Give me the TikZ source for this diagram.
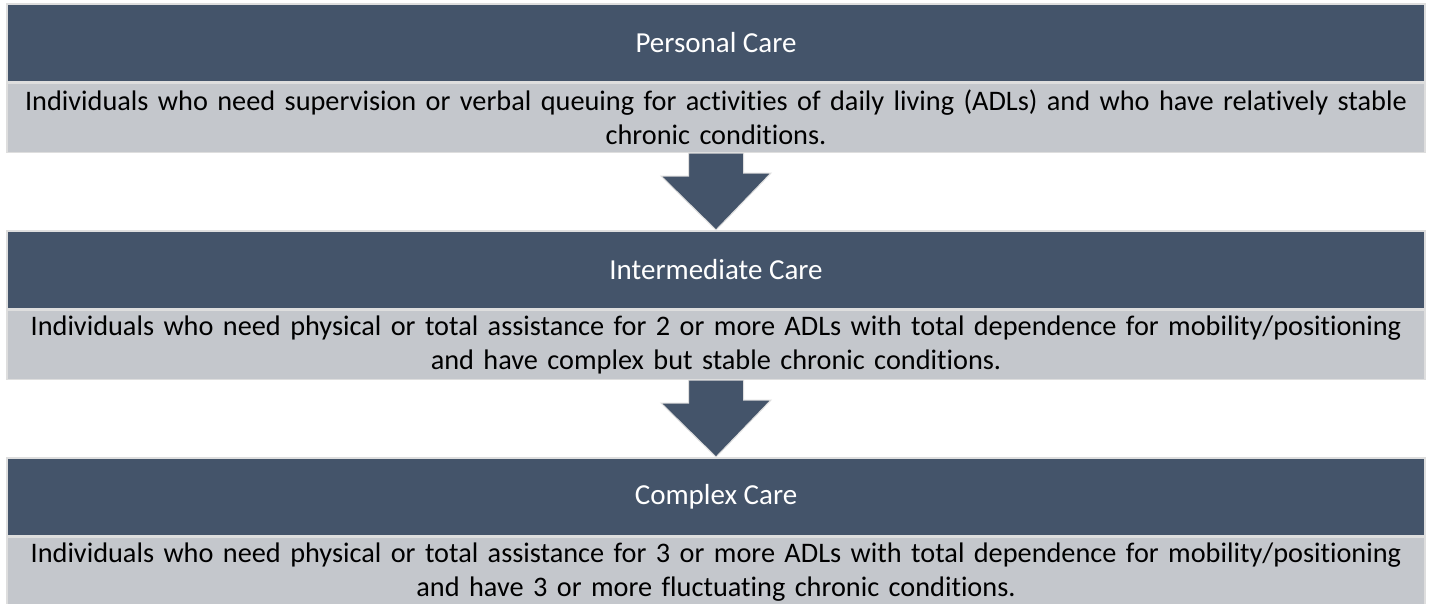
\documentclass[tikz,border=0pt]{standalone}
\usepackage{fontspec}
\setmainfont[Ligatures=NoCommon]{Carlito}
\usetikzlibrary{positioning}
\definecolor{slate}{HTML}{44546A}
\definecolor{pale}{HTML}{C4C7CC}
\definecolor{rim}{HTML}{DEDEDE}
\begin{document}
\begin{tikzpicture}[x=1pt, y=-1pt]
\tikzset{titre/.style={draw=rim, line width=1.5pt, fill=slate, text=white, anchor=north, minimum width=1418pt, minimum height=78pt, inner sep=0pt, font=\fontsize{29}{34}\selectfont},
         corps/.style={draw=rim, line width=1.5pt, fill=pale, text=black, minimum width=1418pt, minimum height=69pt, text width=1418pt, align=center, inner sep=0pt, font=\fontsize{28.3}{34}\selectfont},
         fleche/.style={fill=slate, draw=rim, line width=1pt, line join=miter}}
\useasboundingbox (0,0) rectangle (1434,603);
\node[titre] (H1) at (716,3) {Personal Care};
\node[corps, below=0pt of H1] (T1) {Individuals who need supervision or verbal queuing for activities of daily living (ADLs) and who have relatively stable\\ chronic conditions.};
\node[titre] (H2) at (716,230) {Intermediate Care};
\node[corps, below=0pt of H2] (T2) {Individuals who need physical or total assistance for 2 or more ADLs with total dependence for mobility/positioning\\ and have complex but stable chronic conditions.};
\node[titre] (H3) at (716,457) {Complex Care};
\node[corps, below=0pt of H3] (T3) {Individuals who need physical or total assistance for 3 or more ADLs with total dependence for mobility/positioning\\ and have 3 or more fluctuating chronic conditions.};
\draw[fleche] ([xshift=-27.5pt]T1.south) -- ++(0,23) -- ++(-27.5,0) -- (H2.north) -- ++(55,-57) -- ++(-27.5,0) -- ([xshift=27.5pt]T1.south) -- cycle;
\draw[fleche] ([xshift=-27.5pt]T2.south) -- ++(0,23) -- ++(-27.5,0) -- (H3.north) -- ++(55,-57) -- ++(-27.5,0) -- ([xshift=27.5pt]T2.south) -- cycle;
\end{tikzpicture}
\end{document}
